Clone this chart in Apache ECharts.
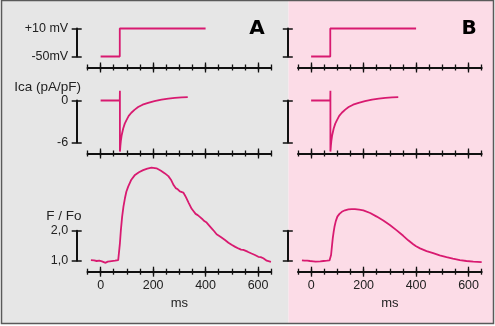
<!DOCTYPE html>
<html><head><meta charset="utf-8">
<script src="https://cdn.jsdelivr.net/npm/echarts@6/dist/echarts.min.js"></script>
<style>html,body{margin:0;padding:0;background:#fff}#c{width:495px;height:326px}</style>
</head><body><div id="c"></div>
<script>
// ---- data ----
const timeTicks = [0, 200, 400, 600];
const vBarTicks = [-50, 10];
const vBarLabels = ['-50mV', '+10 mV'];
const iBarTicks = [-6, 0];
const iBarLabels = ['-6', '0'];
const fBarTicks = [1, 2];
const fBarLabels = ['1,0', '2,0'];
const panelLetters = ['A', 'B'];
const rowNames = ['', 'Ica (pA/pF)', 'F / Fo'];

// [ms, mV]
const voltageStep = [[0,-50],[73,-50],[73,10],[400,10]];
// [ms, pA/pF]
const icaTrace = [[0,0],[73,0],[73.5,1.4],[73.5,-7.3],[74.5,-6.9],[75.5,-6.4],[77,-5.8],[80,-5.0],[86,-4.0],[92,-3.3],[98,-2.84],[107,-2.2],[117,-1.75],[130,-1.3],[143,-0.94],[160,-0.6],[181,-0.33],[205,-0.1],[232,0.14],[258,0.28],[283,0.38],[308,0.44],[332,0.47]];
// [ms, F/Fo]
const fluoA = [[-37,1.02],[-25,1.01],[-15,0.99],[-5,1.0],[5,0.98],[12,0.97],[19,0.93],[27,0.97],[35,0.98],[42,1.0],[55,1.0],[67,1.02],[71,1.03],[73.5,1.58],[77,2.0],[82,2.47],[87,2.8],[92.6,3.08],[98,3.3],[105,3.47],[117,3.7],[131,3.86],[146,3.95],[162,4.02],[178,4.07],[194,4.10],[213,4.08],[230,4.0],[245,3.91],[258,3.82],[268,3.70],[278,3.52],[286,3.42],[294,3.38],[302,3.31],[309,3.30],[315,3.27],[320,3.20],[325,3.12],[336,2.92],[347,2.73],[355,2.64],[362,2.56],[370,2.52],[378,2.46],[386,2.40],[395,2.32],[404,2.27],[413,2.18],[423,2.08],[432,1.99],[442,1.88],[458,1.79],[474,1.69],[487,1.60],[499,1.53],[513,1.46],[527,1.40],[535,1.37],[544,1.36],[560,1.30],[575,1.24],[588,1.19],[601,1.13],[610,1.12],[620,1.08],[627,1.05],[633,1.0],[640,1.01],[649,0.96]];
const fluoB = [[-35,1.01],[-25,1.0],[-15,1.0],[-4,0.99],[8,0.98],[17,0.97],[24,0.95],[35,0.98],[47,0.99],[60,1.0],[70,1.01],[73,1.05],[76,1.19],[79,1.45],[82.5,1.75],[86,1.97],[89,2.13],[94,2.32],[100,2.47],[108,2.56],[117,2.63],[129,2.68],[142,2.71],[155,2.72],[167,2.72],[183,2.70],[199,2.68],[225,2.59],[250,2.47],[275,2.34],[300,2.19],[325,2.02],[351,1.83],[370,1.68],[389,1.55],[400,1.48],[415,1.41],[440,1.32],[465,1.25],[490,1.18],[516,1.12],[540,1.07],[567,1.02],[592,0.99],[618,0.97],[650,0.95]];

// ---- chart ----
const LINE = '#d81a70';
const INK = '#111';
const FONT = '"Liberation Sans", Arial, sans-serif';
const panels = [
  {left: 87.5, barX: 76.7, labels: true, fluo: fluoA, letterX: 257},
  {left: 298, barX: 287.8, labels: false, fluo: fluoB, letterX: 469}
];
const rows = [
  {top: 28.5, height: 28, min: -50, max: 10, ticks: vBarTicks, labels: vBarLabels, data: () => voltageStep},
  {top: 100.5, height: 42, min: -6, max: 0, ticks: iBarTicks, labels: iBarLabels, data: () => icaTrace},
  {top: 230.7, height: 30, min: 1, max: 2, ticks: fBarTicks, labels: fBarLabels, data: p => p.fluo}
];
const W = 183.7, XOFF = 11;
const grids = [], xAxes = [], yAxes = [], series = [];
panels.forEach((p, pi) => rows.forEach((r, ri) => {
  const gi = grids.length;
  grids.push({left: p.left, top: r.top, width: W, height: r.height});
  const isBottom = ri === 2;
  const baseX = {type: 'value', gridIndex: gi, min: -50, max: 650, interval: 50, position: 'bottom', offset: XOFF,
    splitLine: {show: false}, axisLabel: {show: false}, axisLine: {show: false, onZero: false}, silent: true};
  const mainXi = xAxes.length;
  xAxes.push(Object.assign({}, baseX, {
    axisLine: {show: true, onZero: false, lineStyle: {color: INK, width: 2}},
    axisTick: {show: true, length: 3, lineStyle: {color: INK, width: 1.3}},
    axisLabel: isBottom ? {show: true, customValues: timeTicks, margin: 7, fontSize: 12.5, color: '#222', fontFamily: FONT} : {show: false},
    name: isBottom ? 'ms' : '', nameLocation: 'middle', nameGap: 25,
    nameTextStyle: {fontSize: 13, color: '#222', fontFamily: FONT}
  }));
  xAxes.push(Object.assign({}, baseX, {axisTick: {show: true, inside: true, length: 3, lineStyle: {color: INK, width: 1.3}}}));
  xAxes.push(Object.assign({}, baseX, {axisTick: {show: true, length: 5, customValues: timeTicks, lineStyle: {color: INK, width: 1.3}}}));
  xAxes.push(Object.assign({}, baseX, {axisTick: {show: true, inside: true, length: 5, customValues: timeTicks, lineStyle: {color: INK, width: 1.3}}}));
  const mainYi = yAxes.length;
  const yoff = p.left - p.barX;
  yAxes.push({type: 'value', gridIndex: gi, min: r.min, max: r.max, position: 'left', offset: yoff, silent: true,
    splitLine: {show: false},
    axisLine: {show: true, onZero: false, lineStyle: {color: INK, width: 2}},
    axisTick: {show: true, length: 5, customValues: r.ticks, lineStyle: {color: INK, width: 1.5}},
    axisLabel: {show: p.labels, customValues: r.ticks, margin: 8.5, fontSize: 12.5, color: '#222', fontFamily: FONT,
      formatter: v => r.labels[r.ticks.indexOf(v)]}
  });
  yAxes.push({type: 'value', gridIndex: gi, min: r.min, max: r.max, position: 'left', offset: yoff, silent: true,
    splitLine: {show: false}, axisLine: {show: false, onZero: false}, axisLabel: {show: false},
    axisTick: {show: true, inside: true, length: 5, customValues: r.ticks, lineStyle: {color: INK, width: 1.5}}
  });
  series.push({type: 'line', xAxisIndex: mainXi, yAxisIndex: mainYi, data: r.data(p), showSymbol: false, clip: false,
    silent: true, animation: false, lineStyle: {color: LINE, width: 1.8}, z: 5});
}));

const graphic = [
  {type: 'rect', z: -20, shape: {x: 1.5, y: 0.5, width: 287, height: 323}, style: {fill: '#e6e6e6'}},
  {type: 'rect', z: -20, shape: {x: 288.5, y: 0.5, width: 205, height: 323}, style: {fill: '#fcdce7'}},
  {type: 'rect', z: -19, shape: {x: 1.5, y: 0.5, width: 492, height: 323}, style: {fill: 'none', stroke: '#5a5a5a', lineWidth: 1.5}},
  {type: 'text', z: 10, style: {text: rowNames[1], x: 81, y: 87, textAlign: 'right', textVerticalAlign: 'middle', font: '13.5px ' + FONT, fill: '#222'}},
  {type: 'text', z: 10, style: {text: rowNames[2], x: 81.5, y: 216, textAlign: 'right', textVerticalAlign: 'middle', font: '13.5px ' + FONT, fill: '#222'}}
];
panels.forEach((p, i) => graphic.push({type: 'text', z: 10, style: {text: panelLetters[i], x: p.letterX, y: 29,
  textAlign: 'center', textVerticalAlign: 'middle', font: 'bold 20px "DejaVu Sans", sans-serif', fill: '#000'}}));

const chart = echarts.init(document.getElementById('c'), null, {renderer: 'canvas'});
chart.setOption({animation: false, backgroundColor: '#fff', grid: grids, xAxis: xAxes, yAxis: yAxes, series: series, graphic: graphic});
</script>
</body></html>
